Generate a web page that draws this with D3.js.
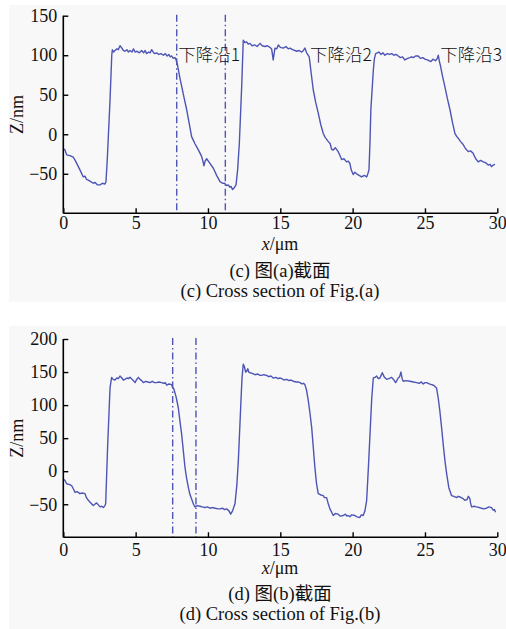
<!DOCTYPE html>
<html><head><meta charset="utf-8">
<script src="https://cdn.jsdelivr.net/npm/d3@7"></script>
<style>
body{margin:0;background:#fff;}
svg{display:block;}
text{font-family:"Liberation Serif","Times New Roman","Noto Sans CJK SC",serif;fill:#111;}
</style></head><body>
<svg id="c" width="506" height="629"></svg>
<script>
// Profile (c): [x µm, Z nm]
const profileC = [
[0,-18],[0.12,-20],[0.23,-26],[0.45,-27],[0.69,-29],[0.85,-34],[1.04,-41],[1.2,-47],[1.38,-54],[1.5,-53],
[1.6,-57],[1.73,-58],[1.9,-60],[2.07,-62],[2.2,-61],[2.35,-64],[2.54,-64],[2.7,-62],[2.88,-63],[2.95,-60],
[3.04,-32],[3.23,43],[3.35,100],[3.39,107],[3.47,104],[3.57,106],[3.7,108],[3.8,107],[3.92,112],[4.05,109],
[4.15,106],[4.26,105],[4.4,107],[4.5,104],[4.61,106],[4.75,104],[4.85,108],[4.96,104],[5.1,105],[5.25,103],
[5.42,106],[5.55,103],[5.66,106],[5.76,102],[5.9,104],[6.0,103],[6.11,107],[6.25,103],[6.35,102],[6.46,103],
[6.6,101],[6.75,102],[6.92,100],[7.05,102],[7.18,99],[7.3,101],[7.38,98],[7.5,99],[7.6,96],[7.72,97],
[7.8,94],[7.89,88],[8.05,72],[8.18,61],[8.35,46],[8.53,31],[8.7,14],[8.87,-3],[9.0,-8],[9.1,-12],
[9.22,-16],[9.4,-22],[9.56,-28],[9.65,-34],[9.72,-40],[9.8,-34],[9.91,-31],[10.1,-36],[10.37,-43],[10.6,-52],
[10.83,-60],[11.0,-62],[11.15,-62],[11.29,-65],[11.4,-64],[11.52,-67],[11.6,-66],[11.7,-70],[11.8,-68],[11.94,-64],
[12.05,-45],[12.17,-11],[12.33,60],[12.44,119],[12.55,116],[12.67,117],[12.78,114],[12.9,115],[13.05,112],[13.25,113],
[13.4,111],[13.6,115],[13.75,112],[13.94,111],[14.1,112],[14.28,110],[14.4,108],[14.51,94],[14.63,109],[14.75,108],
[14.86,113],[15.0,110],[15.2,109],[15.4,111],[15.55,108],[15.67,109],[15.85,107],[16.0,106],[16.13,105],[16.3,106],
[16.48,104],[16.6,106],[16.7,109],[16.82,103],[17.0,98],[17.15,75],[17.28,56],[17.45,40],[17.62,27],[17.8,12],
[17.97,1],[18.1,-4],[18.31,-9],[18.45,-12],[18.55,-19],[18.66,-20],[18.8,-17],[19.0,-22],[19.1,-26],[19.24,-32],
[19.4,-31],[19.58,-35],[19.7,-34],[19.81,-37],[19.9,-45],[20.04,-51],[20.15,-48],[20.27,-50],[20.45,-52],[20.62,-54],
[20.8,-52],[20.97,-54],[21.05,-50],[21.13,-45],[21.2,-10],[21.26,31],[21.43,81],[21.5,95],[21.59,102],[21.7,103],
[21.82,104],[21.95,101],[22.1,103],[22.23,100],[22.4,102],[22.55,101],[22.7,102],[22.85,100],[23.0,101],[23.15,99],
[23.3,97],[23.45,98],[23.61,94],[23.8,96],[23.95,97],[24.07,98],[24.2,97],[24.35,99],[24.53,99],[24.7,96],
[24.85,97],[25.0,95],[25.15,94],[25.3,93],[25.41,92],[25.55,95],[25.73,93],[25.85,96],[25.92,100],[26.0,92],
[26.08,86],[26.22,73],[26.38,60],[26.55,45],[26.73,31],[26.9,15],[27.07,1],[27.2,-3],[27.3,-5],[27.45,-9],
[27.64,-13],[27.8,-18],[27.99,-22],[28.15,-21],[28.33,-24],[28.45,-29],[28.55,-32],[28.68,-35],[28.85,-33],[29.03,-35],
[29.2,-36],[29.37,-39],[29.5,-38],[29.6,-41],[29.72,-39],[29.84,-38]
];
// Profile (d)
const profileD = [
[0,-12],[0.12,-14],[0.23,-19],[0.4,-20],[0.58,-22],[0.7,-27],[0.81,-32],[0.95,-31],[1.15,-34],[1.3,-33],
[1.5,-34],[1.6,-40],[1.73,-44],[1.9,-48],[2.07,-52],[2.18,-50],[2.3,-48],[2.42,-51],[2.54,-54],[2.65,-53],
[2.77,-55],[2.88,-52],[2.93,-49],[3.07,41],[3.23,126],[3.34,142],[3.45,139],[3.57,138],[3.7,141],[3.8,140],
[3.92,144],[4.05,141],[4.15,138],[4.26,139],[4.4,141],[4.5,140],[4.61,142],[4.75,139],[4.85,137],[4.96,134],
[5.05,138],[5.19,142],[5.3,139],[5.42,137],[5.53,134],[5.7,136],[5.85,135],[5.99,134],[6.15,136],[6.3,134],
[6.46,134],[6.6,135],[6.8,134],[6.95,133],[7.05,134],[7.15,130],[7.3,132],[7.49,131],[7.55,127],[7.65,124],
[7.8,112],[7.95,96],[8.05,78],[8.18,56],[8.3,30],[8.41,6],[8.52,-10],[8.64,-24],[8.75,-35],[8.87,-42],
[9.0,-50],[9.1,-54],[9.25,-52],[9.45,-53],[9.6,-54],[9.79,-55],[9.95,-54],[10.14,-56],[10.3,-55],[10.5,-56],
[10.7,-57],[10.83,-57],[11.0,-56],[11.15,-58],[11.29,-57],[11.45,-60],[11.57,-65],[11.7,-60],[11.87,-49],[12.0,-20],
[12.1,16],[12.26,96],[12.35,140],[12.44,162],[12.52,158],[12.6,150],[12.67,151],[12.75,155],[12.82,150],[12.9,149],
[13.05,148],[13.25,146],[13.45,147],[13.6,145],[13.71,145],[13.85,146],[14.05,145],[14.2,143],[14.35,144],[14.51,141],
[14.7,142],[14.85,140],[14.97,141],[15.1,140],[15.25,138],[15.44,139],[15.6,137],[15.75,138],[15.9,136],[16.1,135],
[16.25,135],[16.36,134],[16.5,132],[16.6,133],[16.7,131],[16.82,122],[16.94,106],[17.05,88],[17.17,66],[17.28,36],
[17.39,6],[17.5,-18],[17.62,-34],[17.8,-36],[17.97,-37],[18.05,-40],[18.2,-40],[18.3,-48],[18.43,-57],[18.55,-62],
[18.66,-67],[18.8,-64],[19.0,-65],[19.15,-68],[19.35,-67],[19.5,-65],[19.6,-68],[19.7,-67],[19.81,-69],[19.95,-66],
[20.16,-67],[20.3,-69],[20.5,-70],[20.6,-66],[20.73,-67],[20.85,-60],[20.97,-44],[21.1,10],[21.2,56],[21.32,110],
[21.43,141],[21.55,142],[21.66,144],[21.78,140],[21.89,141],[21.97,145],[22.05,149],[22.2,142],[22.35,139],[22.5,140],
[22.7,142],[22.85,138],[22.97,134],[23.05,137],[23.15,141],[23.25,143],[23.34,150],[23.42,140],[23.5,136],[23.7,137],
[23.96,136],[24.2,135],[24.42,134],[24.6,133],[24.75,135],[24.88,132],[25.0,134],[25.11,134],[25.3,132],[25.45,131],
[25.6,130],[25.8,126],[25.92,110],[26.03,91],[26.15,66],[26.26,41],[26.38,16],[26.5,-4],[26.65,-25],[26.84,-37],
[27.0,-38],[27.19,-40],[27.3,-38],[27.42,-39],[27.6,-41],[27.76,-44],[27.9,-43],[28.0,-38],[28.1,-41],[28.15,-48],
[28.22,-54],[28.4,-53],[28.56,-54],[28.75,-55],[28.91,-56],[29.05,-57],[29.25,-56],[29.42,-54],[29.6,-55],[29.72,-59],
[29.8,-58],[29.88,-62]
];
const xTicks = [0,5,10,15,20,25,30];
const yTicksC = [-50,0,50,100,150];
const yTicksD = [-50,0,50,100,150,200];
const markersC = [7.84, 11.2];
const markersD = [7.56, 9.17];
const labelsC = [{x:7.95,t:"下降沿1"},{x:17.05,t:"下降沿2"},{x:26.05,t:"下降沿3"}];
const captionsC = ["(c) 图(a)截面","(c) Cross section of Fig.(a)"];
const captionsD = ["(d) 图(b)截面","(d) Cross section of Fig.(b)"];

const svg = d3.select("#c");
const lineColor = "#4d55b5";

function panel(o){
  const g = svg.append("g");
  g.append("rect").attr("x",9).attr("y",o.bgTop).attr("width",497).attr("height",o.bgH).attr("fill","#f8f8f8");
  const x = d3.scaleLinear().domain([0,30]).range([63.3,497.3]);
  const y = d3.scaleLinear().domain(o.yDomain).range([o.bottom,o.top]);
  o.markers.forEach(m=>{
    g.append("line").attr("x1",x(m)).attr("x2",x(m)).attr("y1",o.top-1).attr("y2",o.bottom)
      .attr("stroke",lineColor).attr("stroke-width",1.4).attr("stroke-dasharray","7,3,1.5,3");
  });
  g.append("path").datum(o.data).attr("fill","none").attr("stroke",lineColor).attr("stroke-width",1.4)
    .attr("stroke-linejoin","round")
    .attr("d",d3.line().x(d=>x(d[0])).y(d=>y(d[1])));
  const xa = g.append("g").attr("transform",`translate(0,${o.bottom})`)
    .call(d3.axisBottom(x).tickValues(xTicks).tickSize(-5).tickPadding(o.xPad).tickFormat(d3.format("d")));
  const ya = g.append("g").attr("transform",`translate(63.3,0)`)
    .call(d3.axisLeft(y).tickValues(o.yTicks).tickSize(-5).tickPadding(6).tickFormat(d=>d<0?"−"+Math.abs(d):d));
  [xa,ya].forEach(a=>{
    a.select(".domain").attr("stroke","#000").attr("stroke-width",1.6);
    a.selectAll(".tick line").attr("stroke","#000").attr("stroke-width",1.4);
    a.selectAll(".tick text").attr("font-size",18).attr("fill","#111")
      .style("font-family",'"Liberation Serif",serif');
  });
  xa.select(".domain").attr("d",`M63.3,0H497.3`);
  ya.select(".domain").attr("d",`M0,${o.bottom}V${o.top}`);
  g.append("text").attr("transform",`translate(23,${(o.top+o.bottom)/2}) rotate(-90)`)
    .attr("text-anchor","middle").attr("font-size",18).text("Z/nm");
  const xl = g.append("text").attr("x",280).attr("y",o.bottom+o.xlY).attr("text-anchor","middle").attr("font-size",18);
  xl.append("tspan").attr("font-style","italic").text("x");
  xl.append("tspan").text("/μm");
  g.append("text").attr("x",280).attr("y",o.bottom+o.c1Y).attr("text-anchor","middle").attr("font-size",18.5).text(o.captions[0]);
  g.append("text").attr("x",280).attr("y",o.bottom+o.c2Y).attr("text-anchor","middle").attr("font-size",18.5).text(o.captions[1]);
  (o.labels||[]).forEach(l=>{
    g.append("text").attr("x",x(l.x)).attr("y",y(93)).attr("font-size",17.5)
      .style("font-family",'"Noto Sans CJK SC","Liberation Serif",serif').attr("font-weight",300).text(l.t);
  });
}

panel({data:profileC,yDomain:[-100,150],top:15.7,bottom:213.3,yTicks:yTicksC,markers:markersC,
  labels:labelsC,captions:captionsC,bgTop:5,bgH:297,xPad:3,xlY:37,c1Y:64,c2Y:84});
panel({data:profileD,yDomain:[-100,200],top:339,bottom:537.3,yTicks:yTicksD,markers:markersD,
  captions:captionsD,bgTop:326,bgH:303,xPad:6,xlY:37,c1Y:63,c2Y:83});
</script>
</body></html>
